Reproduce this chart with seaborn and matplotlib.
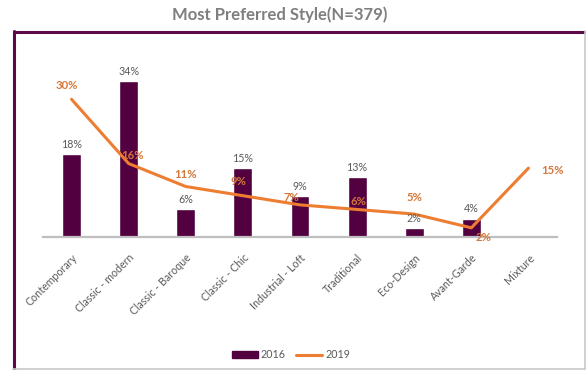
import matplotlib
matplotlib.use("Agg")
import matplotlib.pyplot as plt
import seaborn as sns
import pandas as pd
import numpy as np
from matplotlib.patches import Patch
from matplotlib.lines import Line2D

categories = ["Contemporary", "Classic - modern", "Classic - Baroque", "Classic - Chic",
              "Industrial - Loft", "Traditional", "Eco-Design", "Avant-Garde", "Mixture"]
values_2016 = [18, 34, 6, 15, 9, 13, 2, 4, np.nan]
values_2019 = [30, 16, 11, 9, 7, 6, 5, 2, 15]

sns.set_theme(style="white")
plt.rcParams['font.family'] = ['Lato', 'DejaVu Sans']

BAR = "#52003F"
LINE = "#ED7D31"
LBL_LINE = "#D4783A"
GRAY = "#595959"

df = pd.DataFrame({"style": categories, "v2016": values_2016, "v2019": values_2019})

fig = plt.figure(figsize=(5.86, 3.70), dpi=100)
ax = fig.add_axes([43/586, (370-237)/370, 514/586, 183.6/370])

sns.barplot(data=df, x="style", y="v2016", color=BAR, width=0.33, ax=ax,
            saturation=1, order=categories)
sns.lineplot(x=np.arange(len(categories)), y=df["v2019"].values, color=LINE,
             linewidth=2.2, sort=False, ax=ax)

ax.set_xlim(-0.5, len(categories) - 0.5)
ax.set_ylim(0, 40)
ax.set_xlabel("")
ax.set_ylabel("")
ax.set_yticks([])
for s in ["top", "right", "left"]:
    ax.spines[s].set_visible(False)
ax.spines["bottom"].set_color("#BFBFBF")
ax.spines["bottom"].set_linewidth(1.6)
ax.set_xticks(range(len(categories)))
ax.set_xticklabels(categories, rotation=45, ha="right", rotation_mode="anchor",
                   fontsize=7.7, color=GRAY)
ax.tick_params(axis="x", length=0, pad=11)

# bar labels
for i, v in enumerate(values_2016):
    if not np.isnan(v):
        ax.annotate(f"{int(v)}%", (i, v), xytext=(0, 3), textcoords="offset points",
                    ha="center", va="bottom", fontsize=7.7, color=GRAY)

# line labels (offsets in points)
offsets = [(-3, 6), (3, 2), (0, 5), (-3, 6), (-6, 1), (1, 2), (0, 8), (9, -7), (17, -2)]
for i, v in enumerate(values_2019):
    dx, dy = offsets[i]
    ax.annotate(f"{int(v)}%", (i, v), xytext=(dx, dy), textcoords="offset points",
                ha="center", va="bottom" if dy >= 0 else "center",
                fontsize=8.2, color=LBL_LINE, fontweight="bold")

# legend
handles = [Patch(facecolor=BAR, edgecolor=BAR), Line2D([0], [0], color=LINE, lw=2.2)]
fig.legend(handles, ["2016", "2019"], loc="center", bbox_to_anchor=(291/586, (370-355)/370),
           ncol=2, frameon=False, fontsize=7.7, handlelength=2.4, handleheight=0.6,
           columnspacing=1.0, handletextpad=0.3, labelcolor=GRAY)

# title
fig.text(280/586, 1 - 15/370, "Most Preferred Style(N=379)", ha="center", va="center",
         fontsize=12, fontweight="bold", color="#7F7F7F")

# frame
def fx(x): return x / 586
def fy(y): return 1 - y / 370
fig.add_artist(Line2D([fx(13.5), fx(584)], [fy(32), fy(32)], color="#5A0A48", lw=2.2))
fig.add_artist(Line2D([fx(13.5), fx(13.5)], [fy(31), fy(369)], color="#5A0A48", lw=2.2))
fig.add_artist(Line2D([fx(585), fx(585)], [fy(31), fy(369)], color="#C8C8C8", lw=1.2))
fig.add_artist(Line2D([fx(13), fx(585)], [fy(368.5), fy(368.5)], color="#C8C8C8", lw=1.2))

fig.savefig("out.png", dpi=100)
